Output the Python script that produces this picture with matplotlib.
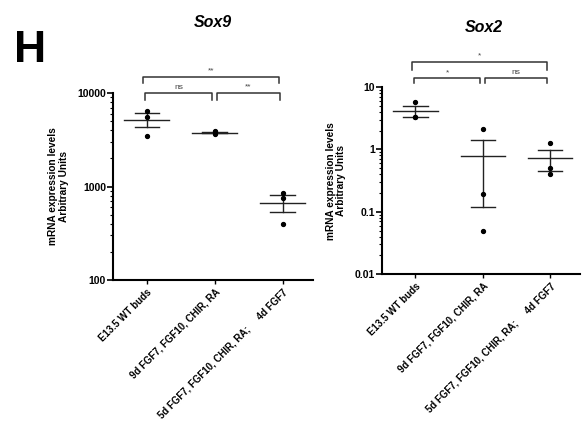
import numpy as np
import matplotlib
matplotlib.use("Agg")
import matplotlib.pyplot as plt
from matplotlib.ticker import LogLocator, NullFormatter

plt.rcParams['font.family'] = ['Liberation Sans', 'DejaVu Sans']
plt.rcParams['font.weight'] = 'bold'

groups = ['E13.5 WT buds', '9d FGF7, FGF10, CHIR, RA', '5d FGF7, FGF10, CHIR, RA;     4d FGF7']

# Sox9 values per group (3 replicates each)
sox9 = [[6500, 5600, 3500], [3900, 3650, 3800], [850, 760, 400]]
# Sox2 values per group
sox2 = [[5.7, 3.3, 3.3], [2.1, 0.195, 0.049], [1.25, 0.51, 0.40]]

sox9_stars = [((0, 1), 'ns'), ((1, 2), '**'), ((0, 2), '**')]
sox2_stars = [((0, 1), '*'), ((1, 2), 'ns'), ((0, 2), '*')]

fig = plt.figure(figsize=(5.82, 4.25), dpi=100)
ax1 = fig.add_axes([0.194, 0.341, 0.344, 0.44])
ax2 = fig.add_axes([0.656, 0.355, 0.341, 0.44])


def draw(ax, vals, ylim, ticks, ticklabels, stars, lvl):
    x = np.arange(len(vals))
    for i, v in enumerate(vals):
        v = np.array(v)
        m = v.mean()
        sem = v.std(ddof=1) / np.sqrt(len(v))
        ax.plot([i] * len(v), v, 'o', color='black', ms=2.8, zorder=3)
        ax.plot([i - 0.33, i + 0.33], [m, m], color='#222222', lw=1.0)
        ax.plot([i - 0.18, i + 0.18], [m + sem, m + sem], color='#222222', lw=1.0)
        ax.plot([i - 0.18, i + 0.18], [m - sem, m - sem], color='#222222', lw=1.0)
        ax.plot([i, i], [m - sem, m + sem], color='#222222', lw=1.0)
    ax.set_yscale('log')
    ax.set_ylim(*ylim)
    ax.set_xlim(-0.5, 2.45)
    ax.set_yticks(ticks)
    ax.set_yticklabels(ticklabels, fontsize=7.5, fontweight='bold')
    ax.yaxis.set_minor_locator(LogLocator(base=10, subs=np.arange(2, 10)))
    ax.yaxis.set_minor_formatter(NullFormatter())
    ax.set_xticks(x)
    ax.set_xticklabels(groups, rotation=45, ha='right', rotation_mode='anchor',
                       fontsize=7, fontweight='bold')
    for s in ['top', 'right']:
        ax.spines[s].set_visible(False)
    for s in ['left', 'bottom']:
        ax.spines[s].set_linewidth(1.5)
    ax.tick_params(axis='y', which='major', length=4, width=1.2, pad=1)
    ax.tick_params(axis='y', which='minor', length=2.5, width=0.8)
    ax.tick_params(axis='x', length=3, width=1.0, pad=2)
    ax.set_ylabel('mRNA expression levels\nArbitrary Units', fontsize=7.3,
                  fontweight='bold', labelpad=6, linespacing=1.05)
    tr = ax.get_xaxis_transform()
    for (a, b), lab in stars:
        if b - a == 2:
            y, tip = lvl[2], lvl[3]
            xa, xb = a - 0.05, b - 0.05
        else:
            y, tip = lvl[0], lvl[1]
            xa, xb = a + (0.03 if a > 0 else -0.02), b - 0.04
        ax.plot([xa, xa, xb, xb], [tip, y, y, tip], color='#333333', lw=1.1,
                transform=tr, clip_on=False)
        ax.text((xa + xb) / 2, y + 0.012, lab, ha='center', va='bottom',
                fontsize=6, fontweight='normal', transform=tr, color='#444444')


draw(ax1, sox9, (100, 10000), [100, 1000, 10000], ['100', '1000', '10000'],
     sox9_stars, (1.0, 0.963, 1.086, 1.053))
draw(ax2, sox2, (0.01, 10), [0.01, 0.1, 1, 10], ['0.01', '0.1', '1', '10'],
     sox2_stars, (1.048, 1.021, 1.134, 1.091))

fig.text(0.366, 0.946, 'Sox9', ha='center', va='center', fontsize=11.5,
         fontweight='bold', style='italic')
fig.text(0.832, 0.936, 'Sox2', ha='center', va='center', fontsize=11.5,
         fontweight='bold', style='italic')
fig.text(0.024, 0.882, 'H', ha='left', va='center', fontsize=32, fontweight='bold')

fig.savefig('out.png', dpi=100)
